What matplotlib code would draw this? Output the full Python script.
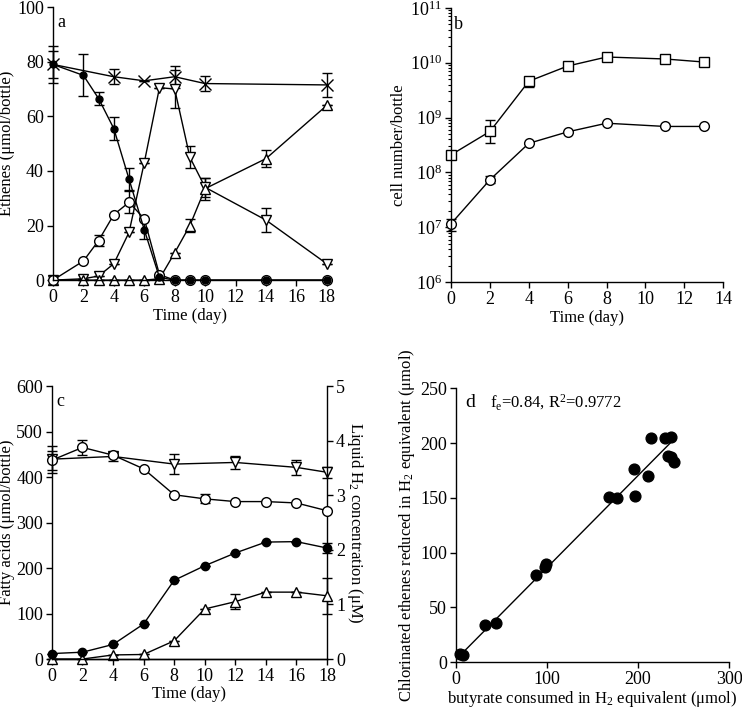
import numpy as np
import matplotlib
matplotlib.use("Agg")
import matplotlib.pyplot as plt
from matplotlib.ticker import LogLocator, NullFormatter

plt.rcParams["font.family"] = ["Liberation Serif", "DejaVu Serif"]
plt.rcParams["mathtext.fontset"] = "custom"
plt.rcParams["mathtext.rm"] = "Liberation Serif"
plt.rcParams["mathtext.it"] = "Liberation Serif:italic"
plt.rcParams["font.size"] = 12
plt.rcParams["axes.linewidth"] = 1.0
plt.rcParams["xtick.major.size"] = 4.5
plt.rcParams["ytick.major.size"] = 4.5
plt.rcParams["xtick.major.width"] = 1.0
plt.rcParams["ytick.major.width"] = 1.0

# --- panel a: ethenes ---
t_a = [0, 2, 3, 4, 5, 6, 7, 8, 9, 10, 14, 18]
pce = [79, 75, 66.5, 55.5, 37, 18.5, 1, 0, 0, 0, 0, 0]
pce_err = [5, 7.7, 2.5, 4.3, 4, 3.5, 0, 0, 0, 0, 0, 0]
tce = [0, 7, 14.5, 24, 28.5, 22.5, 2, 0, 0, 0, 0, 0]
tce_err = [0, 0, 2, 0, 4, 0, 0, 0, 0, 0, 0, 0]
cdce = [0, 0.5, 1.5, 6, 17.5, 43, 70.5, 70, 45, 34, 22, 6]
cdce_err = [0, 0, 0, 0, 0, 0, 0, 7, 4, 3.5, 4.5, 0]
vc = [0, 0, 0, 0, 0, 0, 0.5, 10, 20, 33.5, 44.5, 64]
vc_err = [0, 0, 0, 0, 0, 0, 0, 0, 2.5, 4, 3.2, 0]
t_tot = [0, 4, 6, 8, 10, 18]
total = [79, 74.5, 73, 74.5, 72, 71.5]
total_err = [6.8, 2.8, 0, 4, 2.9, 4.4]

# --- panel b: cell numbers ---
t_b = [0, 2, 4, 6, 8, 11, 13]
cells_sq = [2.1e8, 5.6e8, 4.6e9, 8.7e9, 1.27e10, 1.17e10, 1.03e10]
cells_sq_lo = [2.1e8, 3.5e8, 3.6e9, 8.7e9, 1.27e10, 1.17e10, 1.03e10]
cells_sq_hi = [2.1e8, 9.0e8, 5.6e9, 8.7e9, 1.27e10, 1.17e10, 1.03e10]
cells_ci = [1.17e7, 7.4e7, 3.4e8, 5.5e8, 7.9e8, 6.9e8, 6.9e8]
cells_ci_lo = [8.7e6, 6.5e7, 3.4e8, 5.5e8, 7.9e8, 6.9e8, 6.9e8]
cells_ci_hi = [1.4e7, 8.5e7, 3.4e8, 5.5e8, 7.9e8, 6.9e8, 6.9e8]

# --- panel c: fatty acids and H2 ---
t_c = [0, 2, 4, 6, 8, 10, 12, 14, 16, 18]
butyrate = [437, 465, 448, 418, 361, 352, 346, 346, 343, 326]
butyrate_err = [21, 16, 5, 0, 0, 10, 0, 0, 0, 0]
acetate = [12, 15, 32, 77, 173, 205, 233, 257, 258, 244]
acetate_err = [0, 0, 0, 0, 0, 0, 0, 0, 0, 10]
propionate = [0, 0, 9, 10, 40, 110, 126, 147, 147, 139]
propionate_err = [0, 0, 0, 0, 0, 0, 16, 0, 0, 39]
t_h2 = [0, 4, 8, 12, 16, 18]
h2 = [3.66, 3.71, 3.57, 3.6, 3.51, 3.42]
h2_err = [0.25, 0.08, 0.18, 0.12, 0.14, 0.1]

# --- panel d: electron balance ---
but_h2 = [4.4, 8, 31.8, 43.9, 87.8, 97.7, 98.4, 168.3, 177, 195.4, 196.5,
          211, 214, 229.4, 236.7, 233, 236.7, 239.3]
eth_h2 = [7.6, 6, 33.5, 35.7, 79.9, 86.9, 89.3, 150.9, 150, 175.9, 151.8,
          170, 205, 205, 205.8, 188, 187, 183]
fit_slope = 0.84
fit_icpt = 2.3

fig = plt.figure(figsize=(7.42, 7.11), dpi=100)
ax_a = fig.add_axes([0.0714, 0.606, 0.369, 0.384])
ax_b = fig.add_axes([0.608, 0.603, 0.3666, 0.386])
ax_c = fig.add_axes([0.070, 0.0731, 0.3706, 0.384])
ax_d = fig.add_axes([0.6146, 0.0689, 0.368, 0.385])

lw = 1.0
eb = dict(color="black", lw=lw, elinewidth=lw, capsize=3.5, capthick=lw, clip_on=False)


def errline(ax, x, y, err, marker, ms, mfc="white"):
    ax.errorbar(x, y, yerr=err, fmt="-", marker=marker, ms=ms, mfc=mfc,
                mec="black", mew=lw, **eb)


def style(ax):
    for s in ["top", "right"]:
        ax.spines[s].set_visible(False)
    ax.tick_params(direction="out", labelsize=13, pad=2)


# panel a
errline(ax_a, t_tot, total, total_err, "x", 8)
errline(ax_a, t_a, cdce, cdce_err, "v", 7)
errline(ax_a, t_a, vc, vc_err, "^", 7)
errline(ax_a, t_a, tce, tce_err, "o", 7)
errline(ax_a, t_a, pce, pce_err, "o", 5, mfc="black")
ax_a.set_xlim(0, 18)
ax_a.set_ylim(0, 100)
ax_a.set_xticks(range(0, 19, 2))
ax_a.set_yticks(range(0, 101, 20))
ax_a.set_xlabel("Time (day)", labelpad=1)
ax_a.set_ylabel("Ethenes (\u03bcmol/bottle)")
ax_a.yaxis.set_label_coords(-0.138, 0.5)
ax_a.text(0.3, 97.5, "a", fontsize=13, va="top")
style(ax_a)

# panel b
sq = np.array(cells_sq)
ci = np.array(cells_ci)
errline(ax_b, t_b, sq, [sq - np.array(cells_sq_lo), np.array(cells_sq_hi) - sq], "s", 6.5)
errline(ax_b, t_b, ci, [ci - np.array(cells_ci_lo), np.array(cells_ci_hi) - ci], "o", 7)
ax_b.set_yscale("log")
ax_b.set_ylim(1e6, 1e11)
ax_b.set_xlim(0, 14)
ax_b.set_xticks(range(0, 15, 2))
ax_b.yaxis.set_major_locator(LogLocator(base=10, numticks=10))
ax_b.yaxis.set_minor_locator(LogLocator(base=10, subs=np.arange(2, 10), numticks=20))
ax_b.yaxis.set_minor_formatter(NullFormatter())
ax_b.tick_params(axis="y", which="minor", length=2.5, width=0.8)
ax_b.set_xlabel("Time (day)", labelpad=1)
ax_b.set_ylabel("cell number/bottle", labelpad=2)
ax_b.text(0.12, 5e10, "b", fontsize=13, va="center")
style(ax_b)

# panel c
ax_c2 = ax_c.twinx()
errline(ax_c2, t_h2, h2, h2_err, "v", 7)
errline(ax_c, t_c, butyrate, butyrate_err, "o", 7)
errline(ax_c, t_c, propionate, propionate_err, "^", 7)
errline(ax_c, t_c, acetate, acetate_err, "o", 6, mfc="black")
ax_c.set_xlim(0, 18)
ax_c.set_ylim(0, 600)
ax_c2.set_ylim(0, 5)
ax_c.set_xticks(range(0, 19, 2))
ax_c.set_yticks(range(0, 601, 100))
ax_c2.set_yticks(range(0, 6))
ax_c.set_xlabel("Time (day)", labelpad=1)
ax_c.set_ylabel("Fatty acids (\u03bcmol/bottle)")
ax_c.yaxis.set_label_coords(-0.134, 0.5)
ax_c2.set_ylabel("Liquid $\\mathregular{H_2}$ concentration (\u03bcM)", rotation=270, labelpad=14)
ax_c.text(0.3, 585, "c", fontsize=13, va="top")
style(ax_c)
for s in ["top", "left"]:
    ax_c2.spines[s].set_visible(False)
ax_c2.tick_params(direction="out", labelsize=13, pad=2)
ax_c.set_zorder(ax_c2.get_zorder() + 1)
ax_c.patch.set_visible(False)

# panel d
ax_d.scatter(but_h2, eth_h2, s=60, color="black", zorder=3, clip_on=False)
fx = np.array([min(but_h2), max(but_h2)])
ax_d.plot(fx, fit_slope * fx + fit_icpt, color="black", lw=lw)
ax_d.set_xlim(0, 300)
ax_d.set_ylim(0, 250)
ax_d.set_xticks([0, 100, 200, 300])
ax_d.set_yticks(range(0, 251, 50))
ax_d.set_xlabel("butyrate consumed in $\\mathregular{H_2}$ equivalent (\u03bcmol)", labelpad=1)
ax_d.set_ylabel("Chlorinated ethenes reduced in $\\mathregular{H_2}$ equivalent (\u03bcmol)", labelpad=2)
ax_d.text(10, 237, "d", fontsize=14, va="center")
ax_d.text(37, 237, "f$_\\mathregular{e}$=0.84, R$^\\mathregular{2}$=0.9772", fontsize=12, va="center")
style(ax_d)

fig.savefig("out.png", dpi=100)
